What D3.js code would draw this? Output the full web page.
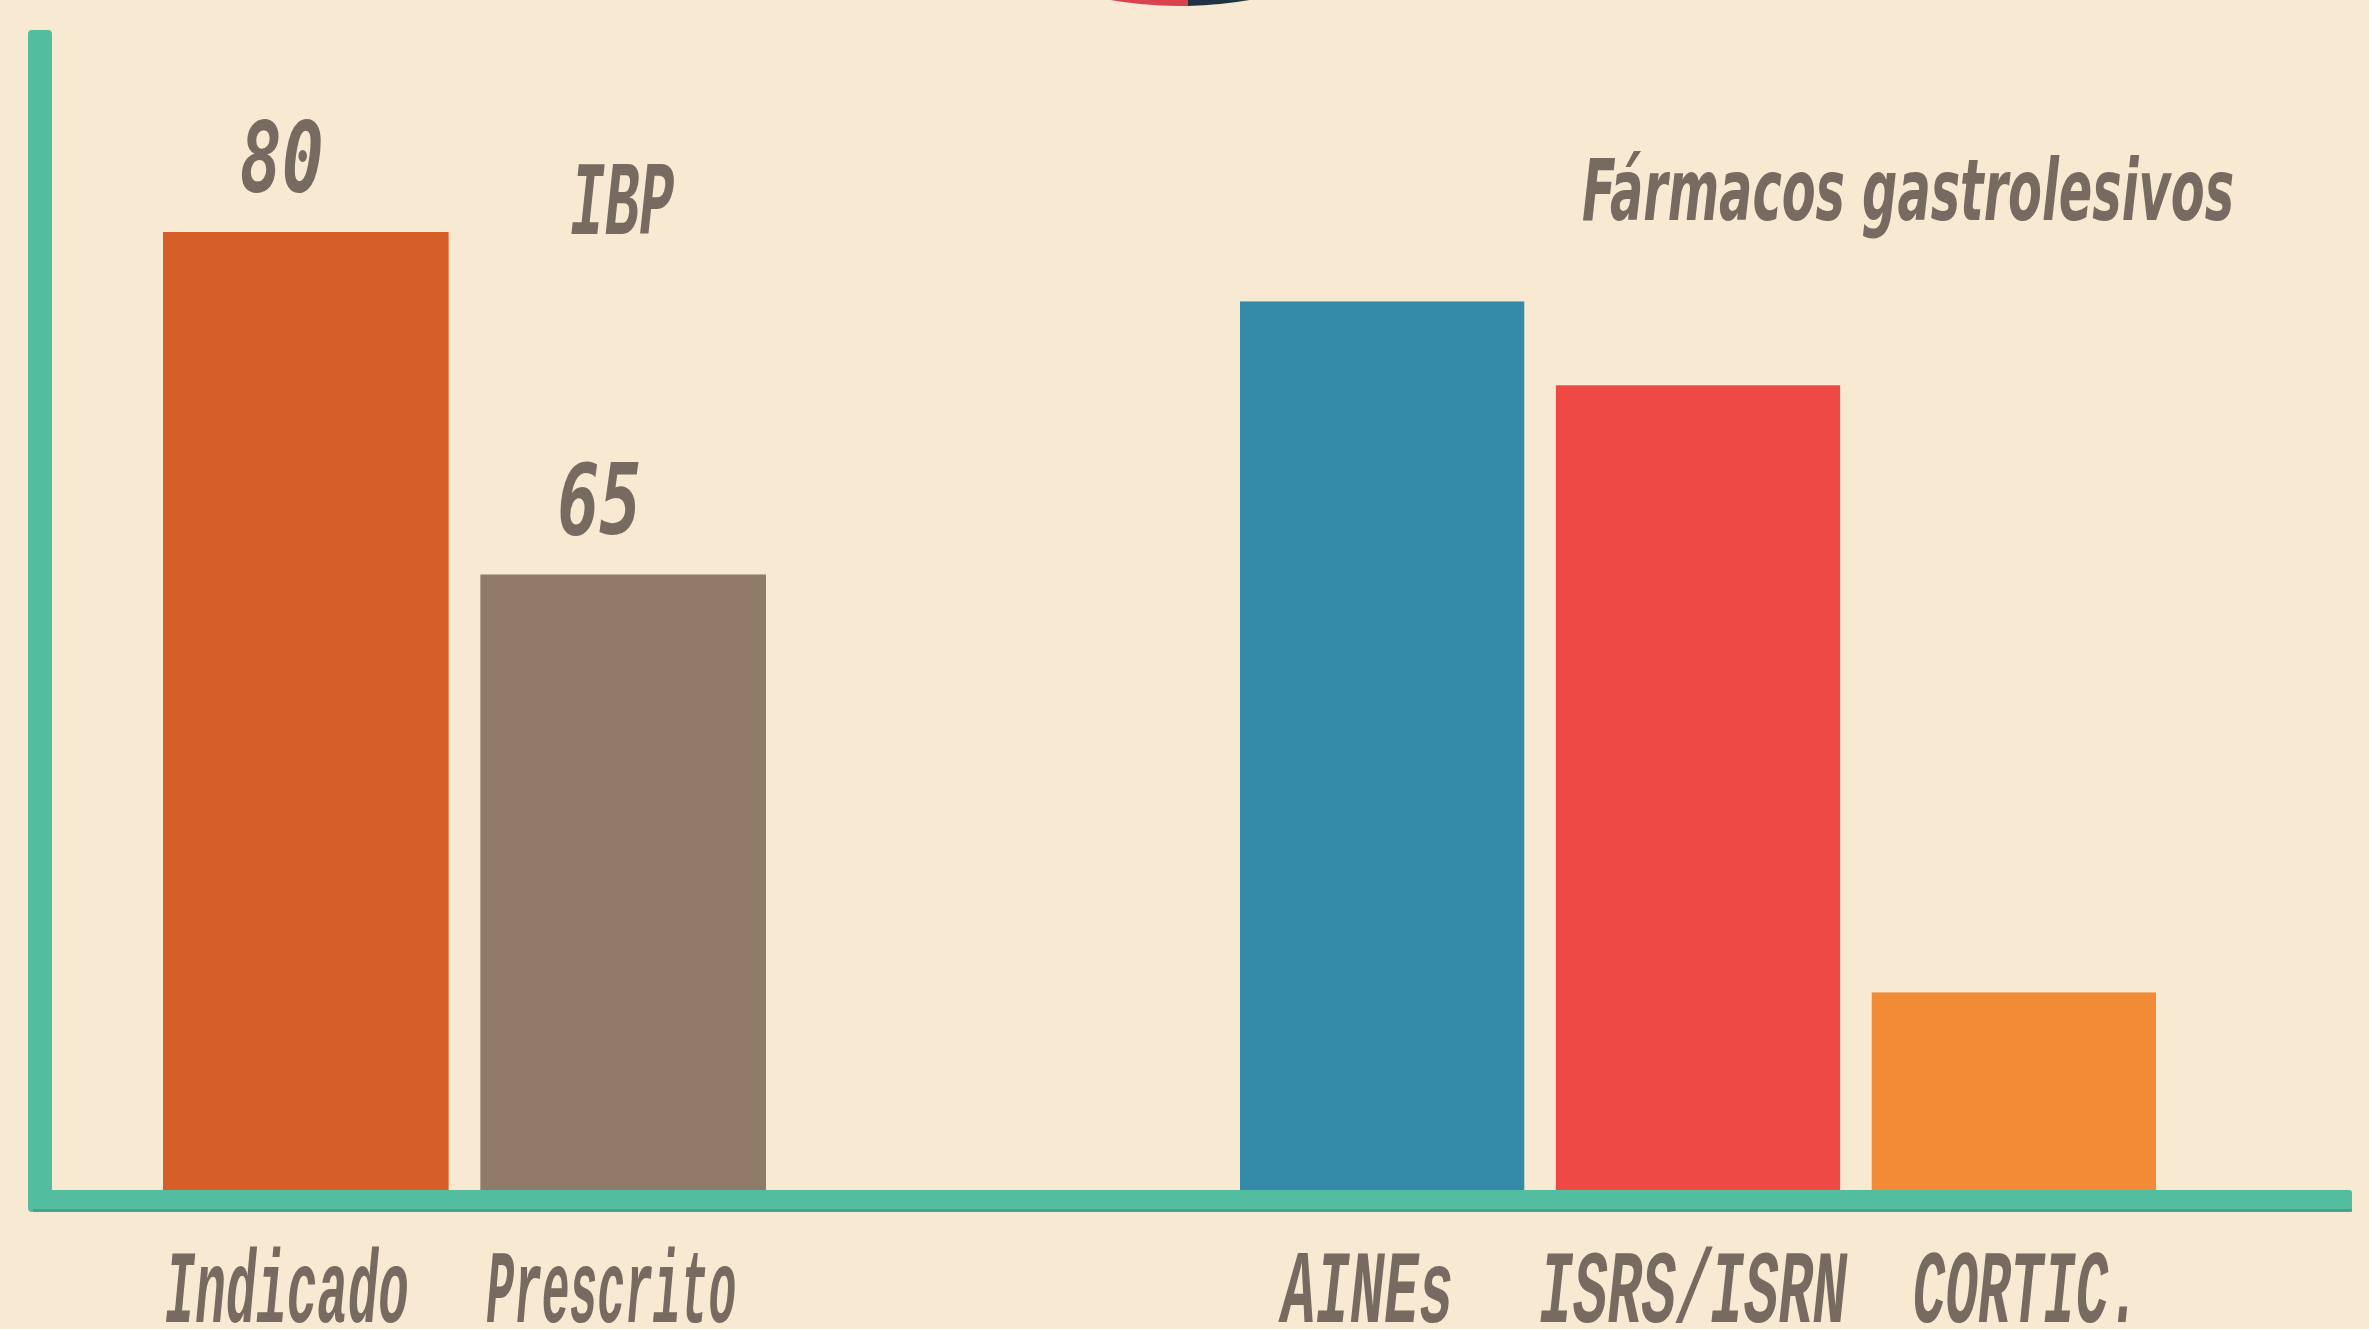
<!DOCTYPE html>
<html>
<head>
<meta charset="utf-8">
<script src="https://cdn.jsdelivr.net/npm/d3@7"></script>
<style>
  html, body { margin: 0; padding: 0; background: #f8ead2; overflow: hidden; }
</style>
</head>
<body>
<script>
// data (bar heights on the 0-80 scale of the first bar)
const ibpCategories = ['Indicado', 'Prescrito']
const ibpValues = [80, 51.4]
const ibpLabels = ['80', '65']
const ibpColors = ['#d65f27', '#8f7b68']

const farmCategories = ['AINEs', 'ISRS/ISRN', 'CORTIC.']
const farmValues = [74.2, 67.2, 16.5]
const farmColors = ['#338ba9', '#ef4946', '#f28b36']

const groupTitles = ['IBP', 'Fármacos gastrolesivos']

const W = 2369, H = 1329
const textColor = '#776b61'
const axisColor = '#52bd9f'

const svg = d3.select('body').append('svg').attr('width', W).attr('height', H)

svg.append('rect').attr('width', W).attr('height', H).attr('fill', '#f8ead2')

// decorative circle cut off at the top edge
function createTopCircle() {
  const defs = svg.append('defs')
  defs.append('clipPath').attr('id', 'leftHalf')
    .append('rect').attr('x', 0).attr('y', 0).attr('width', 1188).attr('height', 40)
  defs.append('clipPath').attr('id', 'rightHalf')
    .append('rect').attr('x', 1188).attr('y', 0).attr('width', 400).attr('height', 40)
  svg.append('circle').attr('cx', 1180).attr('cy', -402).attr('r', 408)
    .attr('fill', '#d9434f').attr('clip-path', 'url(#leftHalf)')
  svg.append('circle').attr('cx', 1180).attr('cy', -402).attr('r', 408)
    .attr('fill', '#1f3440').attr('clip-path', 'url(#rightHalf)')
}

const y = d3.scaleLinear().domain([0, 80]).range([1190, 232])

const x1 = d3.scaleBand().domain(ibpCategories).range([163, 766]).paddingInner(0.1).paddingOuter(0)
const x2 = d3.scaleBand().domain(farmCategories).range([1240, 2156]).paddingInner(0.1).paddingOuter(0)

function createBars(cats, vals, colors, x) {
  svg.append('g').selectAll('rect')
    .data(cats)
    .join('rect')
    .attr('x', d => x(d))
    .attr('width', x.bandwidth())
    .attr('y', (d, i) => y(vals[i]))
    .attr('height', (d, i) => y(0) - y(vals[i]))
    .attr('fill', (d, i) => colors[i])
}

function createCatLabels(cats, x, widths, shifts) {
  svg.append('g').selectAll('text')
    .data(cats)
    .join('text')
    .attr('x', (d, i) => x(d) + x.bandwidth() / 2 + shifts[i])
    .attr('y', 1322)
    .attr('text-anchor', 'middle')
    .attr('font-family', 'Liberation Mono, DejaVu Sans Mono, monospace')
    .attr('font-weight', 'bold')
    .attr('font-style', 'italic')
    .attr('font-size', 104)
    .attr('textLength', (d, i) => widths[i])
    .attr('lengthAdjust', 'spacingAndGlyphs')
    .attr('fill', textColor)
    .text(d => d)
}

function createValueLabels() {
  svg.append('g').selectAll('text')
    .data(ibpCategories)
    .join('text')
    .attr('x', d => x1(d) + x1.bandwidth() / 2 - 24)
    .attr('y', (d, i) => y(ibpValues[i]) - 40)
    .attr('text-anchor', 'middle')
    .attr('font-family', 'DejaVu Sans Mono, monospace')
    .attr('font-weight', 'bold')
    .attr('font-style', 'italic')
    .attr('font-size', 98)
    .attr('textLength', 84)
    .attr('lengthAdjust', 'spacingAndGlyphs')
    .attr('fill', textColor)
    .text((d, i) => ibpLabels[i])
}

function createTitles() {
  svg.append('text')
    .attr('x', 622).attr('y', 234)
    .attr('text-anchor', 'middle')
    .attr('font-family', 'Liberation Mono, monospace')
    .attr('font-weight', 'bold').attr('font-style', 'italic')
    .attr('font-size', 106)
    .attr('textLength', 104).attr('lengthAdjust', 'spacingAndGlyphs')
    .attr('fill', textColor)
    .text(groupTitles[0])

  svg.append('text')
    .attr('x', 1908).attr('y', 220)
    .attr('text-anchor', 'middle')
    .attr('font-family', 'DejaVu Sans, sans-serif')
    .attr('font-weight', 'bold').attr('font-style', 'italic')
    .attr('font-size', 86)
    .attr('textLength', 652).attr('lengthAdjust', 'spacingAndGlyphs')
    .attr('fill', textColor)
    .text(groupTitles[1])
}

function createAxes() {
  // vertical axis
  svg.append('rect')
    .attr('x', 28).attr('y', 30).attr('width', 24).attr('height', 1182)
    .attr('rx', 4)
    .attr('fill', axisColor)
  // horizontal axis
  svg.append('rect')
    .attr('x', 33).attr('y', 1190).attr('width', 2319).attr('height', 22)
    .attr('rx', 3)
    .attr('fill', axisColor)
  svg.append('rect')
    .attr('x', 33).attr('y', 1209).attr('width', 2319).attr('height', 3)
    .attr('fill', '#3f9882').attr('opacity', 0.7)
}

createTopCircle()
createBars(ibpCategories, ibpValues, ibpColors, x1)
createBars(farmCategories, farmValues, farmColors, x2)
createAxes()
createValueLabels()
createTitles()
createCatLabels(ibpCategories, x1, [244, 250], [-19, -12])
createCatLabels(farmCategories, x2, [172, 308, 228], [-15, -5, 13])
</script>
</body>
</html>
